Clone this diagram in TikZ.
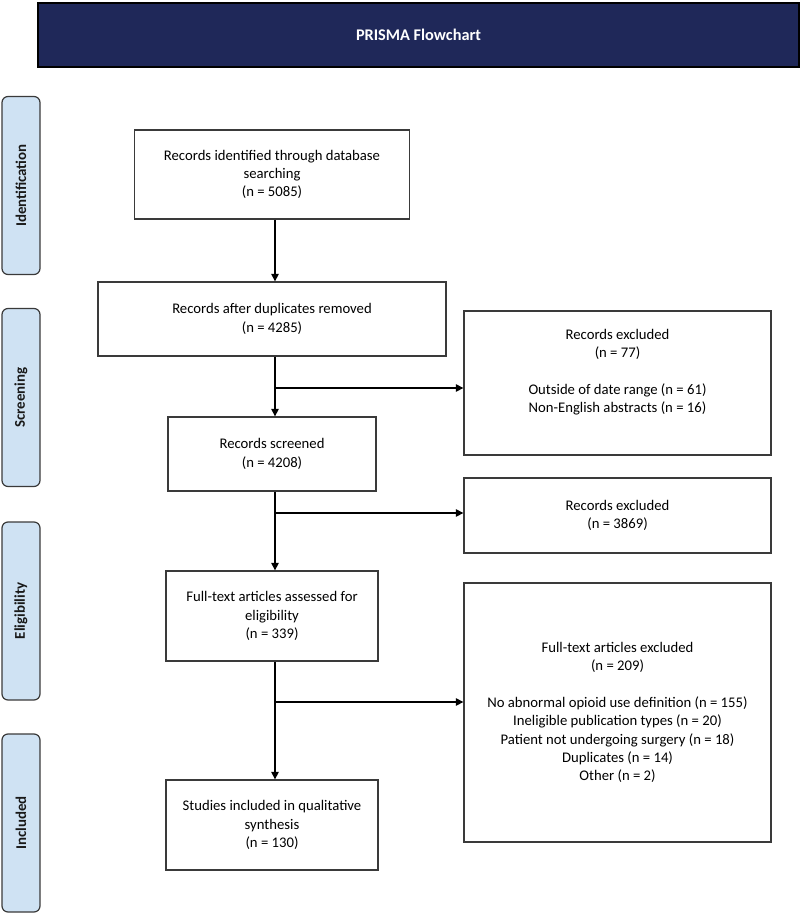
\documentclass[tikz,border=0pt]{standalone}
\usepackage{fontspec}
\setmainfont{Carlito}
\usetikzlibrary{arrows.meta}
\definecolor{navy}{HTML}{1F2859}
\definecolor{lblue}{HTML}{CFE2F3}
\definecolor{edgegray}{HTML}{3A3A3A}
\begin{document}
\begin{tikzpicture}[x=1pt,y=-1pt,
  font=\fontsize{14.7}{18.4}\selectfont,
  box/.style={draw=edgegray, line width=1.3pt, fill=white, rectangle, align=center, inner sep=0pt},
  side/.style={draw=edgegray, fill=lblue, rounded corners=6pt, line width=1.2pt, rotate=90,
    minimum width=178pt, minimum height=38pt, inner sep=0pt,
    font=\fontsize{14.9}{18}\selectfont\bfseries, text=black!90},
  arr/.style={draw=black, line width=1.2pt, -{Triangle[length=7.5pt,width=7.5pt]}}]
\useasboundingbox (0,0) rectangle (800,915);

% header
\node[draw=black, line width=2pt, fill=navy, minimum width=761pt, minimum height=64pt,
  text=white, font=\fontsize{16.3}{19}\selectfont\bfseries] (hdr) at (418.5,35) {PRISMA Flowchart};

% side labels
\node[side] (sid) at (21,185.5) {Identification};
\node[side] (ssc) at (21,397.5) {Screening};
\node[side] (sel) at (21,611) {Eligibility};
\node[side] (sin) at (21,823) {Included};

% main column
\node[box, minimum width=275pt, minimum height=89pt] (b1) at (272,174.5)
  {Records identified through database\\searching\\(n = 5085)};
\node[box, minimum width=348pt, minimum height=74pt] (b2) at (272,319)
  {Records after duplicates removed\\(n = 4285)};
\node[box, minimum width=208pt, minimum height=74pt] (b3) at (272,454)
  {Records screened\\(n = 4208)};
\node[box, minimum width=212pt, minimum height=90pt] (b4) at (272,616)
  {Full-text articles assessed for\\eligibility\\(n = 339)};
\node[box, minimum width=212pt, minimum height=90pt] (b5) at (272,825)
  {Studies included in qualitative\\synthesis\\(n = 130)};

% right column
\node[box, minimum width=307pt, minimum height=144pt] (r1) at (617.5,383)
  {Records excluded\\(n = 77)\\\strut\\Outside of date range (n = 61)\\Non-English abstracts (n = 16)\\\strut};
\node[box, minimum width=307pt, minimum height=75pt] (r2) at (617.5,515.5)
  {Records excluded\\(n = 3869)};
\node[box, minimum width=307pt, minimum height=259pt] (r3) at (617.5,712.5)
  {Full-text articles excluded\\(n = 209)\\\strut\\No abnormal opioid use definition (n = 155)\\Ineligible publication types (n = 20)\\Patient not undergoing surgery (n = 18)\\Duplicates (n = 14)\\Other (n = 2)};

% trunk
\coordinate (t) at (275,0);
\coordinate (j1) at (275,388);
\coordinate (j2) at (275,513);
\coordinate (j3) at (275,702);

\draw[arr] (b1.south -| t) -- (b2.north -| t);
\draw[arr] (b2.south -| t) -- (b3.north -| t);
\draw[arr] (b3.south -| t) -- (b4.north -| t);
\draw[arr] (b4.south -| t) -- (b5.north -| t);

\draw[arr] (j1) -- (j1 -| r1.west);
\draw[arr] (j2) -- (j2 -| r2.west);
\draw[arr] (j3) -- (j3 -| r3.west);
\end{tikzpicture}
\end{document}
